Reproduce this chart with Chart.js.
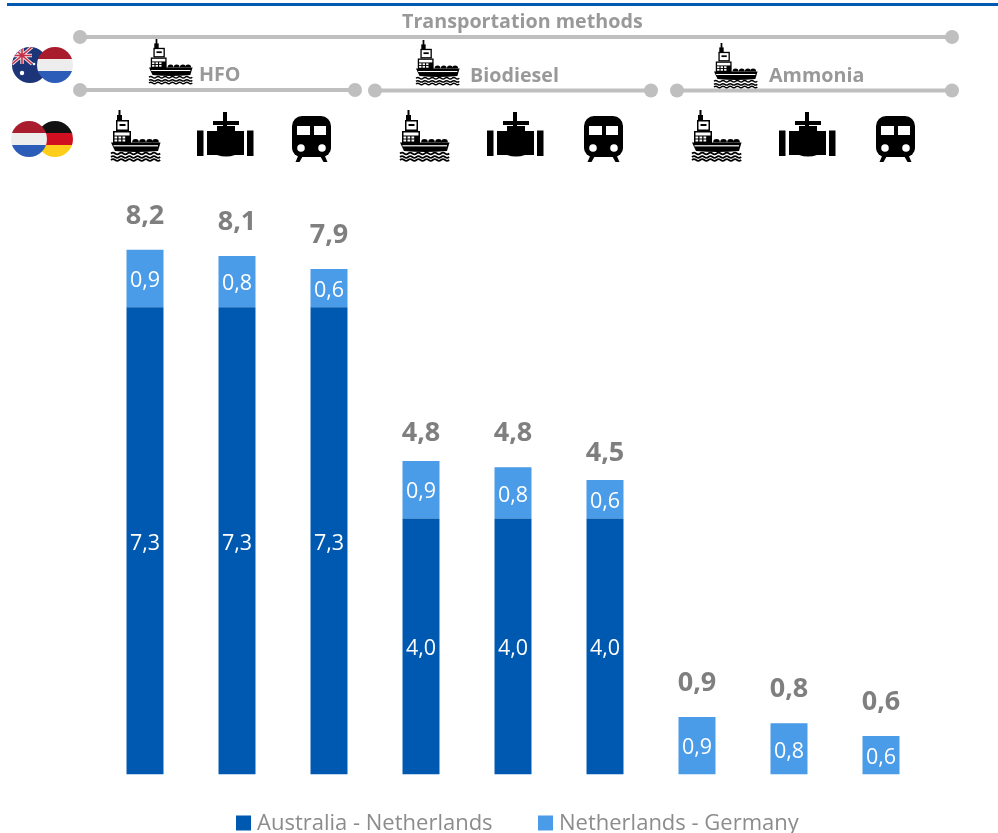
<!DOCTYPE html>
<html>
<head>
<meta charset="utf-8">
<title>Transportation methods</title>
<script src="https://cdn.jsdelivr.net/npm/chart.js@4/dist/chart.umd.min.js"></script>
<style>
html, body { margin: 0; padding: 0; background: #fff; overflow: hidden; }
#wrap { width: 998px; height: 833px; position: relative; }
</style>
</head>
<body>
<div id="wrap"><canvas id="chart" width="998" height="833"></canvas></div>
<script>
const categories = [
  'HFO ship', 'HFO pipeline', 'HFO rail',
  'Biodiesel ship', 'Biodiesel pipeline', 'Biodiesel rail',
  'Ammonia ship', 'Ammonia pipeline', 'Ammonia rail'
];
const australiaNetherlands = [7.3, 7.3, 7.3, 4.0, 4.0, 4.0, 0, 0, 0];
const netherlandsGermany   = [0.9, 0.8, 0.6, 0.9, 0.8, 0.6, 0.9, 0.8, 0.6];
const totals               = [8.2, 8.1, 7.9, 4.8, 4.8, 4.5, 0.9, 0.8, 0.6];

const DARK_BLUE = '#0059B0';
const LIGHT_BLUE = '#4A9BE8';
const GREY_LINE = '#BFBFBF';
const GREY_TEXT = '#999999';
const FONT = '"Open Sans", "Noto Sans", sans-serif';

const fmt = v => v.toFixed(1).replace('.', ',');

/* Pictograms, each drawn in its own local pixel box */
function drawShip(ctx, x, y, s) {
  ctx.save();
  ctx.translate(x, y);
  ctx.scale(s, s);
  ctx.fillStyle = '#000';
  // mast and funnel
  ctx.fillRect(7.5, 0, 2, 6);
  ctx.fillRect(6, 5, 5, 6);
  // upper deckhouse
  ctx.fillRect(5, 10, 13, 11);
  ctx.fillStyle = '#fff';
  ctx.fillRect(6.5, 11.5, 10, 8);
  ctx.fillStyle = '#000';
  ctx.fillRect(8.5, 14, 6, 2);
  // lower deckhouse with window grid
  ctx.fillRect(2, 21, 18, 13);
  ctx.fillStyle = '#fff';
  ctx.fillRect(3.5, 22.5, 15, 3);
  [3.5, 7.5, 11.5].forEach(wx => {
    [26.5, 29.5].forEach(wy => ctx.fillRect(wx, wy, 2.7, 2));
  });
  ctx.fillStyle = '#000';
  // cargo domes
  [24.5, 31.5, 38.5, 44.5].forEach(cx => {
    ctx.beginPath();
    ctx.arc(cx, 32.5, 3.4, Math.PI, 0);
    ctx.fill();
  });
  // hull
  ctx.beginPath();
  ctx.moveTo(0, 32.5);
  ctx.lineTo(49.5, 32.5);
  ctx.lineTo(47, 41);
  ctx.quadraticCurveTo(25, 43, 4, 41);
  ctx.closePath();
  ctx.fill();
  ctx.fillStyle = '#fff';
  ctx.fillRect(2.5, 35.2, 44.5, 1.2);
  // waves
  ctx.strokeStyle = '#000';
  ctx.lineWidth = 1.7;
  [43.5, 47, 50].forEach(wy => {
    ctx.beginPath();
    ctx.moveTo(0, wy);
    for (let i = 0; i < 6; i++) {
      const a = i * 8.2;
      ctx.quadraticCurveTo(a + 2, wy - 1.6, a + 4.1, wy);
      ctx.quadraticCurveTo(a + 6.2, wy + 1.6, a + 8.2, wy);
    }
    ctx.stroke();
  });
  ctx.restore();
}

function drawValve(ctx, x, y) {
  ctx.save();
  ctx.translate(x, y);
  ctx.fillStyle = '#000';
  ctx.fillRect(26, 0, 4, 10);
  ctx.fillRect(16, 9, 26, 4);
  ctx.fillRect(26, 13, 4, 5);
  ctx.fillRect(0, 18.5, 6.5, 25.5);
  ctx.fillRect(50, 18.5, 6.5, 25.5);
  ctx.beginPath();
  ctx.moveTo(20, 14);
  ctx.lineTo(38, 14);
  ctx.lineTo(38, 19);
  ctx.lineTo(47, 19);
  ctx.lineTo(47, 43);
  ctx.lineTo(38, 43);
  ctx.quadraticCurveTo(29, 46, 20, 43);
  ctx.lineTo(10, 43);
  ctx.lineTo(10, 19);
  ctx.lineTo(20, 19);
  ctx.closePath();
  ctx.fill();
  ctx.restore();
}

function drawTrain(ctx, x, y) {
  ctx.save();
  ctx.translate(x, y);
  ctx.fillStyle = '#000';
  // feet
  ctx.beginPath();
  ctx.moveTo(7, 38); ctx.lineTo(12, 38); ctx.lineTo(7.5, 46); ctx.lineTo(3.5, 46); ctx.closePath();
  ctx.moveTo(27, 38); ctx.lineTo(32, 38); ctx.lineTo(35.5, 46); ctx.lineTo(31.5, 46); ctx.closePath();
  ctx.fill();
  // car body
  ctx.beginPath();
  ctx.roundRect(0, 0, 39, 41, [10, 10, 9, 9]);
  ctx.fill();
  // windows and headlights
  ctx.fillStyle = '#fff';
  ctx.fillRect(5, 10, 13, 9);
  ctx.fillRect(22, 10, 12, 9);
  [9, 30].forEach(cx => {
    ctx.beginPath();
    ctx.arc(cx, 32, 3.8, 0, Math.PI * 2);
    ctx.fill();
  });
  ctx.restore();
}

/* Round flags: horizontal tricolours and the Australian ensign */
function drawTricolour(ctx, cx, cy, r, colors) {
  ctx.save();
  ctx.beginPath();
  ctx.arc(cx, cy, r, 0, Math.PI * 2);
  ctx.clip();
  const h = (r * 2) / 3;
  colors.forEach((c, i) => {
    ctx.fillStyle = c;
    ctx.fillRect(cx - r, cy - r + i * h, r * 2, h + 0.5);
  });
  ctx.restore();
}

function drawAustralia(ctx, cx, cy, r) {
  ctx.save();
  ctx.beginPath();
  ctx.arc(cx, cy, r, 0, Math.PI * 2);
  ctx.clip();
  ctx.fillStyle = '#1C3578';
  ctx.fillRect(cx - r, cy - r, r * 2, r * 2);
  const l = cx - r, t = cy - r, w = 20, h = 17;
  ctx.lineCap = 'butt';
  ctx.strokeStyle = '#F4E6E6';
  ctx.lineWidth = 3.4;
  ctx.beginPath();
  ctx.moveTo(l, t); ctx.lineTo(l + w, t + h);
  ctx.moveTo(l + w, t); ctx.lineTo(l, t + h);
  ctx.moveTo(l + w / 2, t); ctx.lineTo(l + w / 2, t + h);
  ctx.moveTo(l, t + h / 2); ctx.lineTo(l + w, t + h / 2);
  ctx.stroke();
  ctx.strokeStyle = '#C8304A';
  ctx.lineWidth = 1.6;
  ctx.stroke();
  ctx.fillStyle = '#fff';
  [[cx - 8, cy + 8, 2.2], [cx + 4, cy - 1, 1.3]].forEach(([sx, sy, sr]) => {
    ctx.beginPath();
    ctx.arc(sx, sy, sr, 0, Math.PI * 2);
    ctx.fill();
  });
  ctx.restore();
}

function dottedRule(ctx, x1, x2, y) {
  ctx.strokeStyle = GREY_LINE;
  ctx.fillStyle = GREY_LINE;
  ctx.lineWidth = 4;
  ctx.beginPath();
  ctx.moveTo(x1, y);
  ctx.lineTo(x2, y);
  ctx.stroke();
  [x1, x2].forEach(x => {
    ctx.beginPath();
    ctx.arc(x, y, 7, 0, Math.PI * 2);
    ctx.fill();
  });
}

/* Header band above the plot: rules, group titles, flags and mode icons */
const headerPlugin = {
  id: 'header',
  afterDraw(chart) {
    const ctx = chart.ctx;
    ctx.save();
    ctx.fillStyle = DARK_BLUE;
    ctx.fillRect(7, 3, 991, 3);

    dottedRule(ctx, 80, 952, 37);
    dottedRule(ctx, 80, 355, 90);
    dottedRule(ctx, 375, 651, 90.5);
    dottedRule(ctx, 677, 952, 90.5);

    ctx.fillStyle = GREY_TEXT;
    ctx.textBaseline = 'middle';
    ctx.textAlign = 'left';
    ctx.font = 'bold 19.7px ' + FONT;
    ctx.fillText('Transportation methods', 402, 22);
    ctx.fillText('HFO', 199, 75);
    ctx.fillText('Biodiesel', 470, 76);
    ctx.fillText('Ammonia', 769, 76);

    const small = 0.88;
    drawShip(ctx, 149, 39, small);
    drawShip(ctx, 416, 40, small);
    drawShip(ctx, 714, 43, small);

    [111, 400, 692].forEach(x => drawShip(ctx, x, 110, 1));
    [197, 487, 779].forEach(x => drawValve(ctx, x, 112));
    [292, 584, 876].forEach(x => drawTrain(ctx, x, 116));

    drawAustralia(ctx, 30, 65, 18);
    drawTricolour(ctx, 55, 65, 18, ['#A81C2E', '#EDEDED', '#2B5CB8']);
    drawTricolour(ctx, 55, 139, 18, ['#111111', '#D01020', '#FFCE1A']);
    drawTricolour(ctx, 29, 139, 18, ['#A81C2E', '#EDEDED', '#2B5CB8']);

    // series key along the bottom edge, read from the datasets
    const keyX = [236, 538];
    ctx.font = '22px ' + FONT;
    chart.data.datasets.forEach((ds, i) => {
      ctx.fillStyle = ds.backgroundColor;
      ctx.fillRect(keyX[i], 815.5, 15, 15);
      ctx.fillStyle = '#8C8C8C';
      ctx.fillText(ds.label, keyX[i] + 21, 824);
    });
    ctx.restore();
  }
};

/* Value labels inside each segment and totals above each stack */
const labelPlugin = {
  id: 'valueLabels',
  afterDatasetsDraw(chart) {
    const ctx = chart.ctx;
    const y = chart.scales.y;
    ctx.save();
    ctx.textAlign = 'center';
    ctx.textBaseline = 'middle';
    chart.data.datasets.forEach((ds, d) => {
      const meta = chart.getDatasetMeta(d);
      ds.data.forEach((v, i) => {
        if (!v) return;
        const bar = meta.data[i];
        ctx.fillStyle = '#FFFFFF';
        ctx.font = '21.5px ' + FONT;
        ctx.fillText(fmt(v), bar.x, (bar.y + bar.base) / 2 + 2.5);
      });
    });
    const meta = chart.getDatasetMeta(0);
    totals.forEach((t, i) => {
      ctx.fillStyle = '#7F7F7F';
      ctx.font = 'bold 27px ' + FONT;
      ctx.fillText(fmt(t), meta.data[i].x, y.getPixelForValue(t) - 33.5);
    });
    ctx.restore();
  }
};

new Chart(document.getElementById('chart'), {
  type: 'bar',
  data: {
    labels: categories,
    datasets: [
      { label: 'Australia - Netherlands', data: australiaNetherlands, backgroundColor: DARK_BLUE },
      { label: 'Netherlands - Germany', data: netherlandsGermany, backgroundColor: LIGHT_BLUE }
    ]
  },
  plugins: [labelPlugin, headerPlugin],
  options: {
    responsive: false,
    animation: false,
    devicePixelRatio: 1,
    layout: { padding: { top: 198.5, left: 99, right: 71, bottom: 58.5 } },
    datasets: { bar: { categoryPercentage: 1, barPercentage: 0.402 } },
    scales: {
      x: { stacked: true, display: false },
      y: { stacked: true, display: false, min: 0, max: 9 }
    },
    plugins: {
      tooltip: { enabled: false },
      title: { display: false },
      legend: { display: false }
    }
  }
});
</script>
</body>
</html>
